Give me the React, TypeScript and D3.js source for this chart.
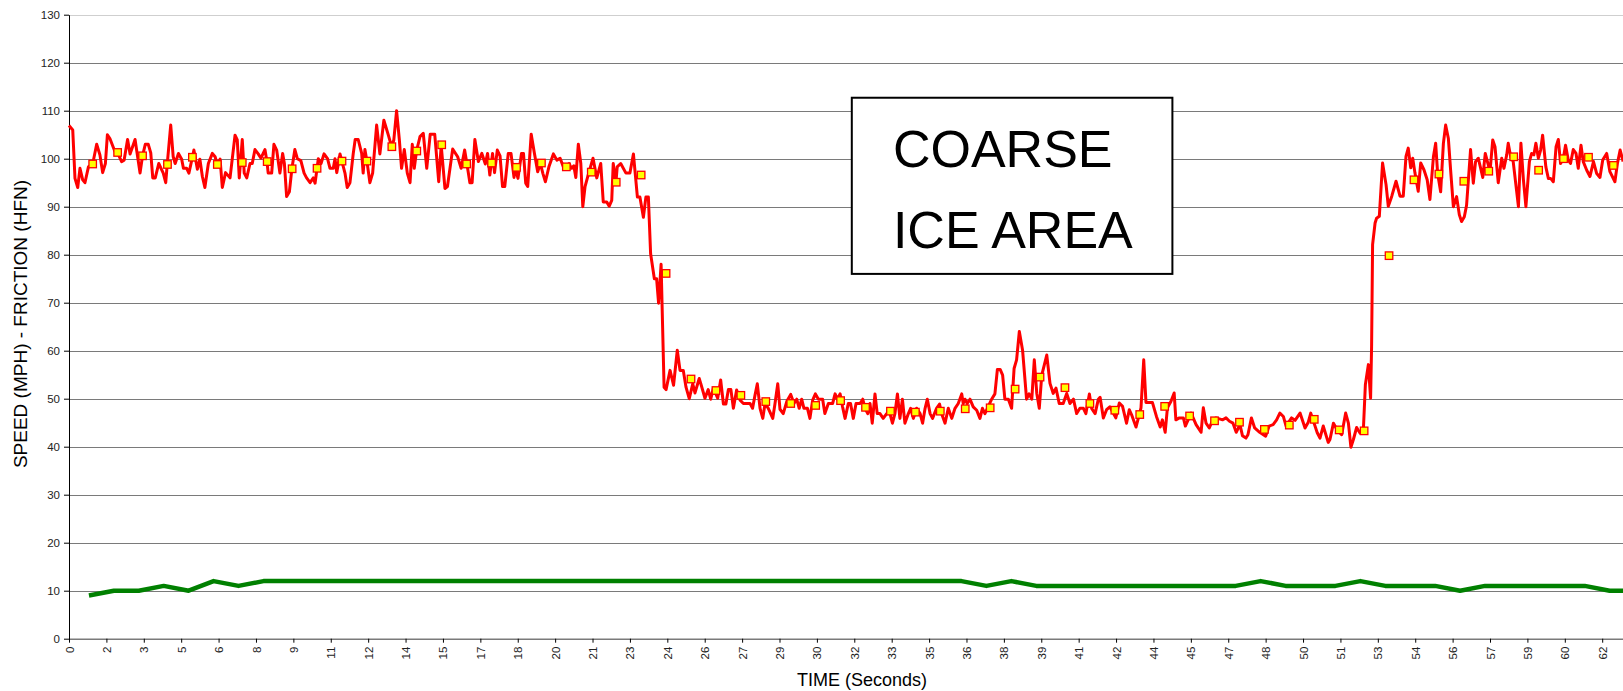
import React, { useRef, useEffect } from 'react';
import * as d3 from 'd3';

const WIDTH = 1623;
const HEIGHT = 691;

// y axis ticks
const yTicks = [0, 10, 20, 30, 40, 50, 60, 70, 80, 90, 100, 110, 120, 130];

// x tick labels, one every 1.5 s (rounded as shown on the chart)
const xTickLabels = [
  '0', '2', '3', '5', '6', '8', '9', '11', '12', '14', '15', '17', '18', '20', '21',
  '23', '24', '26', '27', '29', '30', '32', '33', '35', '36', '38', '39', '41', '42',
  '44', '45', '47', '48', '50', '51', '53', '54', '56', '57', '59', '60', '62',
];
const X_TICK_STEP = 1.5;

// friction trace (HFN) - [seconds, value]
const frictionTrace: [number, number][] = [
  [0, 106.9], [0.15, 106], [0.24, 95.9], [0.35, 94], [0.44, 98], [0.55, 95.6], [0.64, 95], [0.78, 98.3],
  [0.95, 98.9], [1.11, 103], [1.24, 100.8], [1.35, 97.1], [1.46, 99], [1.54, 105], [1.64, 104.2],
  [1.84, 101.5], [1.94, 101.3], [2.11, 99.4], [2.21, 99.7], [2.35, 104], [2.45, 101], [2.65, 104],
  [2.85, 97], [2.95, 100.6], [3.06, 103], [3.18, 103], [3.28, 101.2], [3.36, 96], [3.46, 96], [3.6, 99],
  [3.78, 97], [3.88, 95], [3.94, 98.8], [4.08, 107], [4.18, 100.4], [4.26, 99], [4.39, 101.1],
  [4.52, 99.9], [4.59, 98], [4.72, 98], [4.81, 97], [4.95, 100.3], [5.01, 101.8], [5.15, 97.8],
  [5.25, 99.9], [5.35, 96.3], [5.45, 94], [5.59, 99], [5.75, 101.1], [5.86, 100.4], [5.95, 98.8],
  [6.06, 99.9], [6.15, 94], [6.28, 97.1], [6.46, 96], [6.66, 104.9], [6.75, 103.9], [6.83, 96],
  [6.95, 104], [7.03, 97], [7.13, 96], [7.26, 99], [7.35, 99], [7.46, 101.9], [7.59, 101], [7.7, 100.1],
  [7.86, 101.9], [7.94, 99.4], [7.99, 97], [8.13, 97], [8.22, 103], [8.33, 101.8], [8.46, 97],
  [8.57, 101.1], [8.64, 99], [8.73, 92.1], [8.84, 93.1], [8.94, 97.9], [9.06, 101.9], [9.16, 100],
  [9.3, 99.6], [9.43, 97], [9.53, 96], [9.67, 95], [9.8, 96], [9.87, 94.9], [9.95, 98], [10, 100],
  [10.11, 99], [10.23, 101], [10.37, 100], [10.47, 98], [10.6, 98], [10.67, 100], [10.74, 97.1],
  [10.87, 101], [10.95, 99.4], [11.07, 97], [11.16, 94], [11.27, 95], [11.4, 101], [11.48, 104],
  [11.6, 104], [11.74, 101.1], [11.8, 97], [11.87, 101.9], [11.95, 99.5], [12.07, 95], [12.18, 97],
  [12.34, 107], [12.47, 101], [12.63, 108], [12.81, 104.9], [12.94, 102.5], [13.03, 103.9],
  [13.14, 110], [13.25, 104], [13.34, 98], [13.45, 101.9], [13.57, 97], [13.68, 95], [13.77, 103],
  [13.85, 98], [13.94, 101.6], [14.08, 104.6], [14.21, 105.3], [14.35, 98], [14.49, 105.1],
  [14.67, 105.1], [14.83, 95.2], [14.93, 102.8], [15.08, 93.8], [15.18, 94.2], [15.39, 102],
  [15.59, 100.4], [15.73, 98], [15.87, 101.8], [15.96, 99], [16.08, 95], [16.17, 95], [16.28, 104],
  [16.42, 99.4], [16.56, 101.1], [16.7, 98.9], [16.79, 101.1], [16.88, 96.6], [16.99, 101.1],
  [17.07, 97.1], [17.18, 101.8], [17.29, 100.6], [17.39, 94.2], [17.48, 94.2], [17.62, 101.1],
  [17.73, 101.1], [17.85, 96.1], [17.9, 98], [18.01, 95.9], [18.15, 101.1], [18.23, 101.1],
  [18.32, 94.9], [18.4, 94.2], [18.54, 105.1], [18.67, 101.1], [18.8, 97.3], [18.91, 99], [19.01, 96.9],
  [19.11, 95.2], [19.25, 98.3], [19.43, 101], [19.57, 99.7], [19.7, 100.1], [19.83, 98.3], [19.94, 98.3],
  [20.06, 99], [20.15, 98], [20.25, 98.5], [20.33, 96.1], [20.43, 103], [20.53, 99], [20.61, 90],
  [20.7, 94.2], [20.84, 96.9], [21.02, 100.1], [21.17, 96], [21.33, 99], [21.43, 91], [21.57, 91],
  [21.67, 90.1], [21.77, 91.3], [21.83, 99], [21.94, 95.1], [21.99, 98.3], [22.13, 99], [22.34, 97],
  [22.5, 97], [22.64, 101], [22.8, 92], [22.9, 92], [23.04, 87.8], [23.14, 92], [23.24, 92],
  [23.33, 80.2], [23.48, 75], [23.57, 75], [23.65, 69.9], [23.75, 78], [23.87, 52.4], [23.95, 51.9],
  [24.11, 55.9], [24.25, 52.8], [24.4, 60.1], [24.51, 55.9], [24.64, 55.9], [24.75, 52.4], [24.88, 50],
  [25.02, 53.1], [25.11, 51.2], [25.28, 54.2], [25.34, 53.2], [25.51, 50.1], [25.64, 51.9],
  [25.74, 49.9], [25.85, 52.2], [26.02, 50.1], [26.14, 53.9], [26.25, 48.9], [26.35, 48.9],
  [26.45, 51.9], [26.55, 51.9], [26.65, 48], [26.78, 51.8], [26.92, 49.7], [27.05, 49], [27.32, 49],
  [27.42, 48], [27.52, 50.8], [27.61, 53.1], [27.72, 48], [27.83, 45.9], [27.92, 49], [28.05, 48],
  [28.23, 45.9], [28.32, 49], [28.43, 53.1], [28.52, 47.8], [28.65, 46.9], [28.79, 49.4], [28.95, 50.9],
  [29.08, 49], [29.19, 49.9], [29.29, 48], [29.39, 49.9], [29.48, 48], [29.62, 48], [29.72, 45.9],
  [29.83, 49.7], [29.94, 51], [30.06, 49.9], [30.23, 49.9], [30.32, 46.9], [30.46, 49], [30.63, 49],
  [30.73, 51], [30.82, 49.9], [30.93, 51], [31.03, 48.3], [31.13, 45.9], [31.26, 49], [31.35, 49],
  [31.46, 45.9], [31.57, 49], [31.73, 49], [31.84, 49.9], [31.93, 48], [32.04, 46.9], [32.13, 49],
  [32.22, 44.9], [32.33, 51], [32.42, 46.9], [32.53, 46.9], [32.66, 45.9], [32.8, 46.9], [32.93, 46.9],
  [33.03, 44.9], [33.13, 46.9], [33.23, 51], [33.33, 45.9], [33.43, 49.9], [33.53, 44.9], [33.67, 46.9],
  [33.76, 48], [33.87, 45.9], [34, 48], [34.14, 46.9], [34.24, 44.9], [34.34, 48], [34.43, 49.9],
  [34.54, 46.9], [34.64, 45.9], [34.8, 48], [34.92, 48.9], [35, 46.9], [35.14, 44.9], [35.27, 48],
  [35.41, 45.9], [35.54, 48], [35.67, 49], [35.81, 51], [35.87, 49], [35.94, 49.9], [36.03, 49],
  [36.14, 49.9], [36.27, 48.3], [36.41, 47.6], [36.54, 45.9], [36.64, 48], [36.74, 46.9], [36.84, 48],
  [37.01, 49.9], [37.14, 51], [37.24, 56.1], [37.35, 56.1], [37.45, 54.9], [37.54, 49.9], [37.68, 49.9],
  [37.81, 48], [37.91, 56.3], [38.01, 58.1], [38.12, 64], [38.25, 60.1], [38.41, 49.9], [38.51, 51],
  [38.62, 49.9], [38.72, 58.1], [38.82, 51.1], [38.92, 48], [39.02, 54.9], [39.22, 59.1], [39.35, 53.2],
  [39.48, 51.1], [39.59, 52.2], [39.72, 49], [39.88, 49], [40.02, 51.1], [40.15, 49], [40.29, 49.9],
  [40.42, 46.9], [40.55, 48], [40.69, 48], [40.79, 46.9], [40.93, 51], [41.02, 48], [41.16, 46.9],
  [41.29, 49.9], [41.36, 50.3], [41.49, 46], [41.62, 47.7], [41.75, 48.3], [41.99, 46], [42.13, 49.1],
  [42.26, 48.4], [42.42, 44.9], [42.53, 47.7], [42.62, 46.7], [42.8, 44.1], [43, 48.1], [43.11, 58.1],
  [43.2, 49.2], [43.46, 49.2], [43.62, 46.3], [43.77, 44.1], [43.86, 45.6], [43.97, 43], [44.06, 48.1],
  [44.2, 49.4], [44.33, 51.2], [44.4, 45.6], [44.54, 46], [44.7, 46], [44.78, 44.3], [45.01, 47],
  [45.21, 44.6], [45.41, 43], [45.5, 48.1], [45.61, 44.9], [45.74, 43.9], [45.88, 45.6], [46.01, 46],
  [46.28, 45.6], [46.41, 46], [46.55, 45.3], [46.69, 44.9], [46.82, 43], [46.97, 44.6], [47.07, 42.3],
  [47.21, 41.8], [47.29, 42.5], [47.43, 46], [47.56, 43.9], [47.76, 43], [48, 42.2], [48.14, 44.3],
  [48.3, 44.6], [48.44, 45.6], [48.57, 47], [48.71, 46.3], [48.82, 44.3], [49.04, 46], [49.18, 45.5],
  [49.38, 47], [49.58, 43.9], [49.71, 45.1], [49.81, 47], [50.07, 42.9], [50.18, 41.8], [50.31, 44.3],
  [50.51, 40.9], [50.58, 41.5], [50.72, 44.9], [50.87, 43.5], [51.05, 42.5], [51.21, 47], [51.32, 44.9],
  [51.42, 39.9], [51.52, 41.5], [51.65, 44], [51.79, 42.8], [51.92, 43.5], [52, 52.9], [52.12, 57.1],
  [52.21, 50.1], [52.25, 60.9], [52.29, 82.1], [52.39, 86.6], [52.45, 87.6], [52.56, 88], [52.69, 99.1],
  [52.83, 94.6], [52.92, 90.1], [53.06, 92.2], [53.23, 95.3], [53.39, 92.2], [53.52, 92.2],
  [53.63, 100.5], [53.72, 102.2], [53.82, 98.1], [53.9, 100.1], [53.99, 97], [54.12, 93.2], [54.22, 99.1],
  [54.35, 97.7], [54.48, 95.6], [54.59, 91.5], [54.73, 100.4], [54.82, 103.2], [54.9, 96.9], [55.02, 93.1],
  [55.13, 103.2], [55.22, 107], [55.33, 104.2], [55.42, 97.6], [55.53, 90], [55.66, 92.1], [55.77, 88.3],
  [55.86, 86.9], [55.97, 87.9], [56.06, 90.3], [56.22, 101.9], [56.33, 94.9], [56.42, 99.4],
  [56.53, 100.1], [56.71, 96.1], [56.81, 101.1], [57, 97.3], [57.11, 103.9], [57.2, 102.5], [57.33, 95],
  [57.47, 100.1], [57.56, 98], [57.67, 100.8], [57.73, 103.2], [57.83, 100.4], [57.93, 99.4], [58.14, 90],
  [58.24, 103.2], [58.34, 95.6], [58.44, 90], [58.58, 99.4], [58.67, 101.1], [58.76, 100.8],
  [58.84, 103.2], [58.94, 100.1], [59.03, 101.8], [59.11, 104.9], [59.24, 98.3], [59.34, 95.9],
  [59.43, 95.9], [59.54, 95.2], [59.65, 102.5], [59.74, 104], [59.83, 99], [59.94, 100.1], [60.03, 102.8],
  [60.14, 99.7], [60.23, 99], [60.34, 101.9], [60.45, 101.1], [60.54, 98], [60.65, 102.8], [60.74, 99.4],
  [60.88, 97.6], [61.01, 96.3], [61.15, 99.4], [61.28, 96.9], [61.41, 96.1], [61.52, 99.7],
  [61.68, 101.1], [61.81, 97.3], [62.01, 95.2], [62.11, 99], [62.22, 101.8], [62.34, 99.4],
];

// one friction reading per second (yellow squares), first at 0.95 s
const FRICTION_SECOND_START = 0.95;
const frictionPerSecond = [
  98.9, 101.3, 100.6, 98.8, 100.3, 98.8, 99.2, 99.4, 97.9, 98.0,
  99.5, 99.5, 102.5, 101.6, 102.9, 98.9, 99.1, 98.2, 99.1, 98.3,
  97.2, 95.1, 96.6, 76.1, 54.1, 51.7, 50.7, 49.4, 49.0, 48.6,
  49.6, 48.2, 47.4, 47.2, 47.4, 47.9, 48.1, 52.0, 54.5, 52.3,
  49.0, 47.6, 46.7, 48.4, 46.4, 45.4, 45.1, 43.6, 44.5, 45.7,
  43.5, 43.3, 79.8, 95.6, 96.8, 95.3, 97.4, 100.4, 97.6, 100.0,
  100.3, 98.6,
];

// speed (MPH), one per second, first at 0.8 s
const SPEED_START = 0.8;
const speedMph = [
  9, 10, 10, 11, 10, 12, 11, 12, 12, 12, 12, 12, 12, 12, 12, 12, 12, 12, 12, 12, 12,
  12, 12, 12, 12, 12, 12, 12, 12, 12, 12, 12, 12, 12, 12, 12, 11, 12, 11, 11, 11, 11,
  11, 11, 11, 11, 11, 12, 11, 11, 11, 12, 11, 11, 11, 10, 11, 11, 11, 11, 11, 10, 10,
];

// annotation box, in data units (seconds / value)
const noteBox = { t0: 31.4, t1: 44.26, v0: 112.7, v1: 76 };
const noteLines = [
  { text: 'COARSE', t: 33.05, v: 98.3 },
  { text: 'ICE AREA', t: 33.05, v: 81.5 },
];

const App: React.FC = () => {
  const svgRef = useRef<SVGSVGElement | null>(null);

  useEffect(() => {
    if (!svgRef.current) return;
    const svg = d3.select(svgRef.current);
    svg.selectAll('*').remove();

    const font = "'Liberation Sans', Arial, Helvetica, sans-serif";
    const margin = { top: 14.7, left: 69, bottom: 52.3 };
    const pxPerSecond = 24.93;
    const tMax = 65;

    const x = d3.scaleLinear()
      .domain([0, tMax])
      .range([margin.left, margin.left + tMax * pxPerSecond]);
    const y = d3.scaleLinear()
      .domain([0, 130])
      .range([HEIGHT - margin.bottom, margin.top]);

    // horizontal grid
    svg.append('g')
      .selectAll('line')
      .data(yTicks.filter(d => d > 0))
      .join('line')
      .attr('x1', margin.left)
      .attr('x2', WIDTH)
      .attr('y1', d => Math.round(y(d)) + 0.5)
      .attr('y2', d => Math.round(y(d)) + 0.5)
      .attr('stroke', d => (d === 130 ? '#cfcfcf' : '#7a7a7a'))
      .attr('stroke-width', 1);

    // annotation box
    svg.append('rect')
      .attr('x', x(noteBox.t0))
      .attr('y', y(noteBox.v0))
      .attr('width', x(noteBox.t1) - x(noteBox.t0))
      .attr('height', y(noteBox.v1) - y(noteBox.v0))
      .attr('fill', '#fff')
      .attr('stroke', '#000')
      .attr('stroke-width', 2);

    svg.append('g')
      .selectAll('text')
      .data(noteLines)
      .join('text')
      .attr('x', d => x(d.t))
      .attr('y', d => y(d.v))
      .attr('font-family', font)
      .attr('font-size', 52)
      .attr('fill', '#000')
      .text(d => d.text);

    // x axis
    const xAxis = svg.append('g')
      .attr('transform', `translate(0,${y(0)})`)
      .call(
        d3.axisBottom(x)
          .tickValues(xTickLabels.map((_, i) => i * X_TICK_STEP))
          .tickFormat((_, i) => xTickLabels[i])
          .tickSize(4)
          .tickSizeOuter(0)
      )
      .attr('font-family', font)
      .attr('font-size', 11.5);
    xAxis.select('.domain').attr('stroke', '#7a7a7a').attr('stroke-width', 1.5);
    xAxis.selectAll('.tick line').attr('stroke', '#000');
    xAxis.selectAll('text')
      .attr('transform', 'rotate(-90)')
      .attr('text-anchor', 'end')
      .attr('x', -8)
      .attr('y', 0)
      .attr('dy', '0.35em')
      .attr('fill', '#222');

    // y axis
    const yAxis = svg.append('g')
      .attr('transform', `translate(${margin.left},0)`)
      .call(d3.axisLeft(y).tickValues(yTicks).tickSize(5).tickSizeOuter(0).tickPadding(4))
      .attr('font-family', font)
      .attr('font-size', 11.5);
    yAxis.select('.domain').attr('stroke', '#000');
    yAxis.selectAll('.tick line').attr('stroke', '#000');
    yAxis.selectAll('text').attr('fill', '#222');

    // speed line
    const speedLine = d3.line<number>()
      .x((_, i) => x(SPEED_START + i))
      .y(d => y(d));
    svg.append('path')
      .datum(speedMph)
      .attr('d', speedLine)
      .attr('fill', 'none')
      .attr('stroke', '#008000')
      .attr('stroke-width', 4.5)
      .attr('stroke-linejoin', 'round');

    // friction trace
    const trace = d3.line<[number, number]>()
      .x(d => x(d[0]))
      .y(d => y(d[1]));
    svg.append('path')
      .datum(frictionTrace)
      .attr('d', trace)
      .attr('fill', 'none')
      .attr('stroke', '#ff0000')
      .attr('stroke-width', 3)
      .attr('stroke-linejoin', 'round');

    // per-second markers
    const size = 7.5;
    svg.append('g')
      .selectAll('rect')
      .data(frictionPerSecond)
      .join('rect')
      .attr('x', (_, i) => x(FRICTION_SECOND_START + i) - size / 2)
      .attr('y', d => y(d) - size / 2)
      .attr('width', size)
      .attr('height', size)
      .attr('fill', '#ffff00')
      .attr('stroke', '#ff0000')
      .attr('stroke-width', 1.3);

    // axis titles
    svg.append('text')
      .attr('transform', `translate(27,324) rotate(-90)`)
      .attr('text-anchor', 'middle')
      .attr('font-family', font)
      .attr('font-size', 19)
      .attr('fill', '#000')
      .text('SPEED (MPH) - FRICTION (HFN)');

    svg.append('text')
      .attr('x', 862)
      .attr('y', 686)
      .attr('text-anchor', 'middle')
      .attr('font-family', font)
      .attr('font-size', 18)
      .attr('fill', '#000')
      .text('TIME (Seconds)');
  }, []);

  return (
    <svg
      ref={svgRef}
      width={WIDTH}
      height={HEIGHT}
      style={{ position: 'absolute', left: 0, top: 0, background: '#fff', display: 'block' }}
    />
  );
};

export default App;
